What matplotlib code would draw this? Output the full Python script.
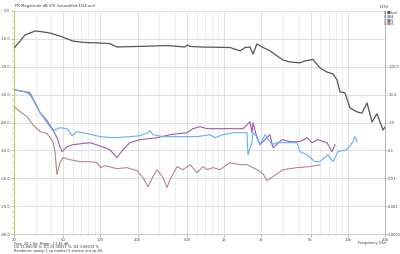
import matplotlib
matplotlib.use("Agg")
import matplotlib.pyplot as plt
from matplotlib.ticker import FixedLocator, NullFormatter, NullLocator

# ---------------- data ----------------
fund_freq = [20, 22.4, 24.5, 29.6, 32.5, 39.1, 47.1, 60, 75, 100, 119, 136, 209, 345, 483, 501, 530,
             638, 1116, 1344, 1476, 1619, 1712, 1844, 2024, 2350, 2993, 3410, 4108, 4508, 5233, 5962,
             6792, 7594, 8180, 8650, 9498, 10425, 11870, 13030, 14300, 15700, 17230, 19260, 20000]
fund_db = [-13.3, -10.8, -8.6, -7.2, -7.35, -7.9, -9.0, -10.8, -11.3, -11.5, -11.7, -12.9, -12.7, -12.4,
           -12.9, -12.2, -12.7, -12.9, -13.1, -14.3, -13.1, -12.9, -15.4, -11.8, -12.9, -14.3, -17.6,
           -18.3, -18.6, -17.9, -17.4, -20.4, -21.9, -22.6, -24.7, -29.0, -29.4, -34.8, -36.2, -36.6,
           -33.0, -39.8, -36.9, -42.7, -41.6]

h2_freq = [20, 24.5, 26.9, 28.5, 32.5, 37, 41.3, 42.9, 47.1, 53.7, 58.9, 64.6, 77.9, 100, 126, 173, 209,
           242, 252, 266, 321, 440, 604, 769, 844, 980, 1180, 1531, 1560, 1681, 1712, 1844, 1950, 2141,
           2440, 2677, 3226, 3884, 4108, 4679, 5433, 5962, 6919, 7594, 8338, 9860, 11020, 11440, 11870]
h2_pct = [15.0, 12.7, 9.9, 6.56, 2.25, 0.98, 0.51, 0.55, 0.65, 0.60, 0.336, 0.47, 0.40, 0.31, 0.285, 0.31,
          0.336, 0.43, 0.51, 0.366, 0.31, 0.31, 0.31, 0.366, 0.285, 0.366, 0.43, 0.43, 0.070, 0.205, 0.43,
          0.31, 0.16, 0.366, 0.16, 0.189, 0.189, 0.189, 0.09, 0.070, 0.0394, 0.0394, 0.070, 0.0394, 0.09,
          0.106, 0.205, 0.31, 0.205]

h3_freq = [20, 26.9, 32.5, 37, 41.3, 44.5, 47.1, 48.9, 53.7, 60, 82.3, 103, 119, 136, 152, 173, 209, 287,
           365, 501, 560, 638, 727, 926, 1422, 1619, 1681, 1712, 1844, 1950, 2350, 2485, 2938, 3410, 4108,
           4679, 5136, 5744, 6792, 7453, 7880]
h3_pct = [15.08, 11.7, 2.25, 1.16, 0.55, 0.285, 0.136, 0.09, 0.136, 0.16, 0.189, 0.136, 0.106, 0.0547,
          0.106, 0.189, 0.242, 0.285, 0.366, 0.43, 0.60, 0.71, 0.60, 0.60, 0.60, 1.07, 0.43, 0.98, 0.285,
          0.16, 0.366, 0.125, 0.242, 0.205, 0.205, 0.285, 0.189, 0.242, 0.189, 0.09, 0.16]

h4_freq = [20, 22.4, 25.5, 28.5, 32.5, 37, 41.3, 42.9, 44.5, 47.1, 49.8, 56.7, 68.4, 82.3, 93.8, 100, 109,
           136, 164, 198, 221, 242, 266, 287, 321, 345, 365, 416, 465, 530, 604, 675, 727, 813, 926,
           1116, 1344, 1531, 1844, 2062, 2222, 2485, 2993, 3884, 4948, 5962]
h4_pct = [3.68, 2.44, 1.61, 0.83, 0.47, 0.40, 0.205, 0.09, 0.0135, 0.0362, 0.0547, 0.0464, 0.0394, 0.0394,
          0.0362, 0.024, 0.0283, 0.0221, 0.024, 0.0187, 0.0105, 0.005, 0.0114, 0.0203, 0.0105, 0.0046,
          0.0089, 0.0261, 0.0203, 0.0307, 0.0159, 0.0261, 0.0203, 0.024, 0.0203, 0.0362, 0.0307, 0.0307,
          0.0203, 0.0146, 0.0082, 0.0114, 0.0203, 0.024, 0.0261, 0.0307]

x_ticks = [20, 50, 100, 200, 500, 1000, 2000, 5000, 10000, 20000]
x_labels = ["20", "50", "100", "200", "500", "1k", "2k", "5k", "10k", "20k"]
db_ticks = [0, -10, -20, -30, -40, -50, -60, -70, -80]
pct_ticks = [0.0001, 0.001, 0.01, 0.1, 1, 10, 100]
pct_labels = ["0.0001", "0.001", "0.01", "0.1", "1.0", "10.0", "100.0"]

series_names = ["Fund", "H2", "H3", "H4"]
series_letters = ["A", "B", "C", "D"]
colors = ["#555555", "#5cb0ff", "#a05aa8", "#b08884"]

# ---------------- figure ----------------
fs = 2.7
fig = plt.figure(figsize=(4.0, 2.54), dpi=100)
fig.patch.set_facecolor("white")
ax = fig.add_axes([14/400, 1-234/254, (385-14)/400, (234-11)/254])
ax.set_xscale("log")
ax.set_xlim(20, 20000)
ax.set_ylim(-80, 0)

# grid
ax.grid(True, which="major", axis="both", color="#dadada", lw=0.6)
ax.grid(True, which="minor", axis="x", color="#e6e6e6", lw=0.5)
ax.set_yticks(db_ticks)
ax.set_yticklabels([f"{v:.1f}" for v in db_ticks], fontsize=fs, color="#444444")
ax.yaxis.set_minor_locator(FixedLocator([v for v in range(-80, 1, 2)]))
ax.xaxis.set_major_locator(FixedLocator(x_ticks))
ax.set_xticklabels(x_labels, fontsize=fs, color="#444444")
minor_x = [m * d for d in (10, 100, 1000) for m in range(2, 10)] + [10000 * m for m in range(2, 3)]
ax.xaxis.set_minor_locator(FixedLocator(minor_x))
ax.xaxis.set_minor_formatter(NullFormatter())
ax.tick_params(axis="both", which="major", length=2, width=0.4, pad=0.8, colors="#888888", labelcolor="#444444")
ax.tick_params(axis="both", which="minor", length=1.2, width=0.3, colors="#999999")
for s in ["top", "right"]:
    ax.spines[s].set_visible(False)
ax.spines["left"].set_color("#c8c86a")
ax.spines["left"].set_linewidth(0.8)
ax.spines["bottom"].set_color("#bbbbbb")
ax.spines["bottom"].set_linewidth(0.5)

ax.plot(fund_freq, fund_db, color=colors[0], lw=0.9, zorder=5)

ax2 = ax.twinx()
ax2.set_yscale("log")
ax2.set_ylim(1e-4, 1e4)
ax2.yaxis.set_major_locator(FixedLocator(pct_ticks))
ax2.set_yticklabels(pct_labels, fontsize=fs, color="#444444")
ax2.yaxis.set_minor_locator(NullLocator())
ax2.tick_params(axis="y", which="major", length=1.5, width=0.4, pad=0.8, colors="#888888", labelcolor="#444444")
for s in ["top", "left", "bottom"]:
    ax2.spines[s].set_visible(False)
ax2.spines["right"].set_color("#aaaaaa")
ax2.spines["right"].set_linewidth(0.6)

ax2.plot(h4_freq, h4_pct, color=colors[3], lw=0.8)
ax2.plot(h3_freq, h3_pct, color=colors[2], lw=0.8)
ax2.plot(h2_freq, h2_pct, color=colors[1], lw=0.8)

# titles and texts
fig.text(15/400, 1-6/254, "FR Magnitude dB V/V (smoothed 1/24 oct)", fontsize=fs, color="#333333",
         ha="left", va="center")
fig.text(384/400, 1-7/254, "D(%)", fontsize=fs, color="#333333", ha="center", va="center")
for i, (lt, nm, c) in enumerate(zip(series_letters, series_names, colors)):
    yy = 1 - (13 + i*3.8)/254
    fig.text(385/400, yy, lt, fontsize=2.3, color="#555555", ha="center", va="center")
    fig.text(388/400, yy, "\u25a0", fontsize=2.6, color=c, ha="center", va="center")
    fig.text(390/400, yy, nm, fontsize=2.3, color="#555555", ha="left", va="center")
fig.text(372/400, 1-243/254, "Frequency (Hz)", fontsize=fs, color="#333333", ha="center", va="center")
fig.text(14/400, 1-243.8/254, "Freq: 20.1 Hz, Magn: -13.46 dB", fontsize=2.5, color="#333333", ha="left", va="center")
fig.text(14/400, 1-247.4/254, "D2 15.00038 %, D3 15.08097 %, D4 3.68033 %", fontsize=2.5, color="#333333",
         ha="left", va="center")
fig.text(14/400, 1-251.2/254, "Rendition: sweep 1 sp marker 5 stream out sp 84", fontsize=2.5, color="#333333",
         ha="left", va="center")

fig.savefig("out.png", dpi=100, facecolor="white")
